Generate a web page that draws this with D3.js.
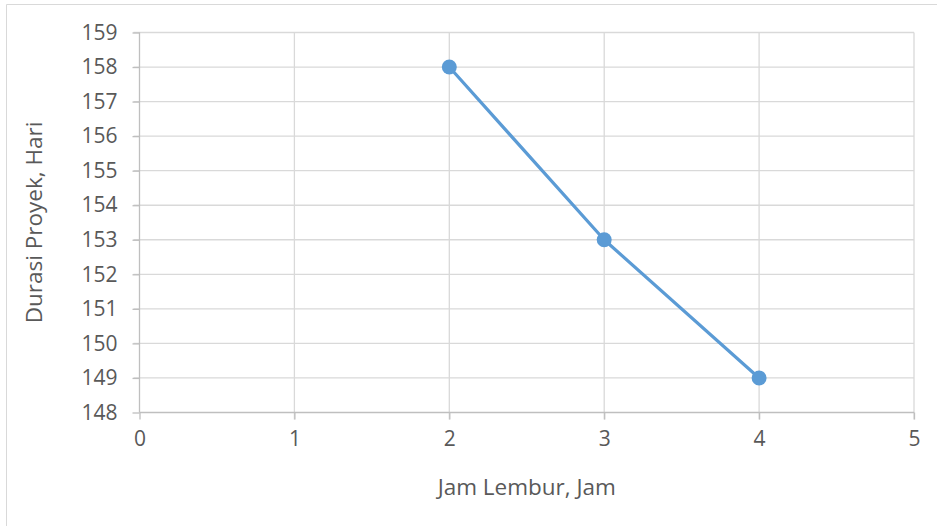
<!DOCTYPE html>
<html lang="id">
  <head>
    <meta charset="utf-8">
    <title>Jam Lembur vs Durasi Proyek</title>
    <script src="https://d3js.org/d3.v7.min.js"></script>
    <style>
      body { margin: 0; background: #fff; }
      text { font-family: "Open Sans", sans-serif; fill: #595959; }
    </style>
  </head>
  <body>
    <script>
    // data
    let jamLembur = [2, 3, 4];
    let durasi = [158, 153, 149];
    let xTicks = [0, 1, 2, 3, 4, 5];
    let yTicks = [148, 149, 150, 151, 152, 153, 154, 155, 156, 157, 158, 159];

    let w = 937, h = 526;
    let margin = {left: 139.5, right: 23, top: 32.5, bottom: 113.5};

    let svg = d3.select("body").append("svg")
      .attr("width", w)
      .attr("height", h);

    // chart border (only left + top visible in the crop)
    svg.append("path")
      .attr("d", `M6.5,${h} V4.5 H${w}`)
      .attr("fill", "none")
      .attr("stroke", "#d9d9d9");

    let xScale = d3.scaleLinear().domain([0, 5]).range([margin.left, w - margin.right]);
    let yScale = d3.scaleLinear().domain([148, 159]).range([h - margin.bottom, margin.top]);

    // gridlines
    svg.append("g").selectAll("line.h")
      .data(yTicks.slice(1))
      .enter().append("line")
      .attr("x1", xScale(0) - 6).attr("x2", xScale(5))
      .attr("y1", d => yScale(d)).attr("y2", d => yScale(d))
      .attr("stroke", "#d9d9d9").attr("stroke-width", 1.3);

    svg.append("g").selectAll("line.v")
      .data(xTicks.slice(1))
      .enter().append("line")
      .attr("x1", d => xScale(d)).attr("x2", d => xScale(d))
      .attr("y1", yScale(159)).attr("y2", yScale(148) + 7)
      .attr("stroke", "#d9d9d9").attr("stroke-width", 1.3);

    // axes
    let xAxis = d3.axisBottom(xScale).tickValues(xTicks).tickSize(7).tickPadding(12).tickFormat(d3.format("d"));
    let yAxis = d3.axisLeft(yScale).tickValues(yTicks).tickSize(7).tickPadding(15).tickFormat(d3.format("d"));

    let gx = svg.append("g").attr("transform", `translate(0,${yScale(148)})`).call(xAxis);
    let gy = svg.append("g").attr("transform", `translate(${xScale(0)},0)`).call(yAxis);

    [gx, gy].forEach(g => {
      g.select(".domain").attr("stroke", "#bfbfbf").attr("stroke-width", 1.3);
      g.selectAll(".tick line").attr("stroke", "#bfbfbf").attr("stroke-width", 1.3);
      g.selectAll(".tick text").style("font-size", "21px").attr("fill", "#595959");
    });
    gx.select(".domain").attr("d", `M${xScale(0)},0H${xScale(5)}`);
    gy.select(".domain").attr("d", `M0,${yScale(148)}V${yScale(159)}`);

    // axis titles
    svg.append("text")
      .attr("x", xScale(2.5))
      .attr("y", 495)
      .attr("text-anchor", "middle")
      .style("font-size", "22.5px")
      .text("Jam Lembur, Jam");

    svg.append("text")
      .attr("transform", `translate(42,${yScale(153.5)}) rotate(-90)`)
      .attr("text-anchor", "middle")
      .style("font-size", "22.5px")
      .text("Durasi Proyek, Hari");

    // series
    let pts = jamLembur.map((d, i) => [d, durasi[i]]);
    let line = d3.line().x(d => xScale(d[0])).y(d => yScale(d[1]));

    svg.append("path")
      .datum(pts)
      .attr("d", line)
      .attr("fill", "none")
      .attr("stroke", "#5b9bd5")
      .attr("stroke-width", 3.2)
      .attr("stroke-linejoin", "round");

    svg.selectAll("circle")
      .data(pts)
      .enter().append("circle")
      .attr("cx", d => xScale(d[0]))
      .attr("cy", d => yScale(d[1]))
      .attr("r", 7.5)
      .attr("fill", "#5b9bd5");
    </script>
  </body>
</html>
